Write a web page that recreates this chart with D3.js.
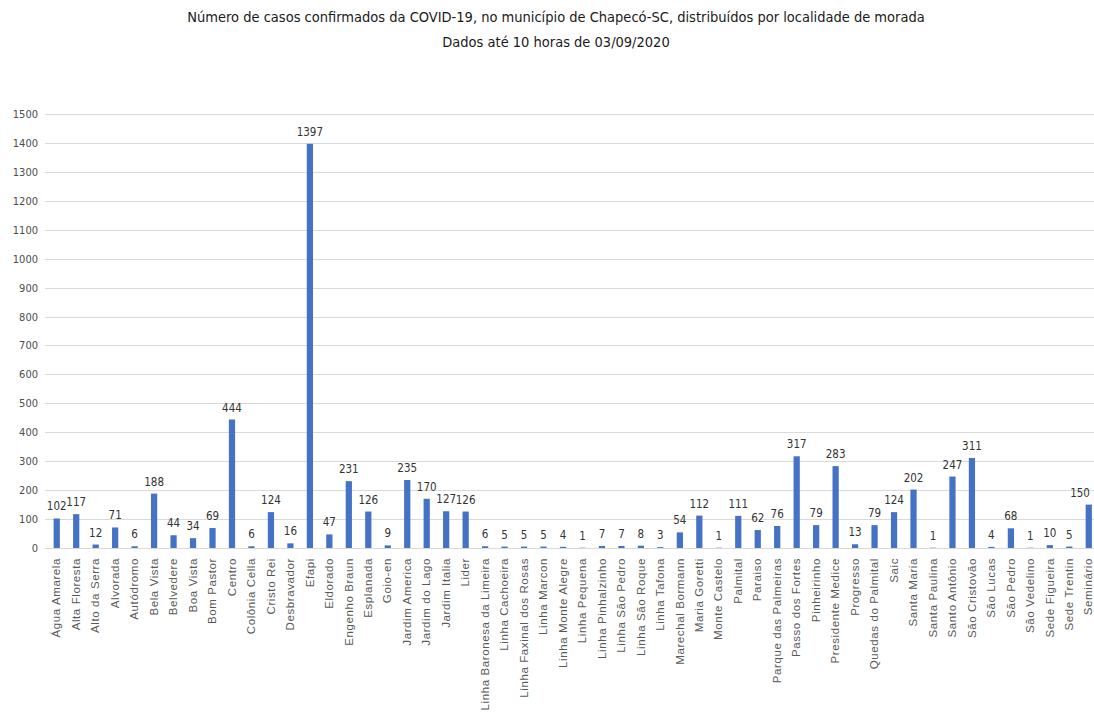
<!DOCTYPE html>
<html lang="pt">
<head>
<meta charset="UTF-8">
<title>Casos COVID-19 Chapecó</title>
<script src="https://cdn.jsdelivr.net/npm/d3@7"></script>
<style>
  body { margin: 0; background: #fff; }
  .grid line { stroke: #d9d9d9; stroke-width: 1; shape-rendering: crispEdges; }
  .grid path { display: none; }
  .yaxis path, .yaxis line { display: none; }
  .yaxis text { font-family: "DejaVu Sans Condensed", sans-serif; font-size: 11px; fill: #4d4d4d; }
  .xaxis path, .xaxis line { display: none; }
  .xaxis text { font-family: "Liberation Sans", Arial, sans-serif; font-size: 11.5px; fill: #595959; letter-spacing: 0.6px; }
  .title { font-family: "DejaVu Sans Condensed", sans-serif; font-size: 14.5px; fill: #1a1a1a; }
  .lbl { font-family: "DejaVu Sans Condensed", sans-serif; font-size: 11.5px; fill: #333; }
</style>
</head>
<body>
<script>
// localidades (eixo x)
var bairros = ["Água Amarela","Alta Floresta","Alto da Serra","Alvorada","Autódromo","Bela Vista","Belvedere",
  "Boa Vista","Bom Pastor","Centro","Colônia Cella","Cristo Rei","Desbravador","Efapi","Eldorado",
  "Engenho Braun","Esplanada","Goio-en","Jardim America","Jardim do Lago","Jardim Italia","Lider",
  "Linha Baronesa da Limeira","Linha Cachoeira","Linha Faxinal dos Rosas","Linha Marcon","Linha Monte Alegre",
  "Linha Pequena","Linha Pinhalzinho","Linha São Pedro","Linha São Roque","Linha Tafona","Marechal Bormann",
  "Maria Goretti","Monte Castelo","Palmital","Paraiso","Parque das Palmeiras","Passo dos Fortes","Pinheirinho",
  "Presidente Medice","Progresso","Quedas do Palmital","Saic","Santa Maria","Santa Paulina","Santo Antônio",
  "São Cristovão","São Lucas","São Pedro","São Vedelino","Sede Figueira","Sede Trentin","Seminário"];
// casos confirmados
var casos = [102,117,12,71,6,188,44,34,69,444,6,124,16,1397,47,231,126,9,235,170,127,126,
  6,5,5,5,4,1,7,7,8,3,54,112,1,111,62,76,317,79,283,13,79,124,202,1,247,311,4,68,1,10,5,150];
var yTicks = d3.range(0, 1501, 100);

var width = 1094, height = 722;
var svg = d3.select("body").append("svg").attr("width", width).attr("height", height);

var x = d3.scaleBand().domain(bairros).range([47, 1098.5]).paddingInner(0.68).paddingOuter(0.34);
var y = d3.scaleLinear().domain([0, 1500]).range([548, 114]);

svg.append("text").attr("class", "title").attr("x", 556).attr("y", 22).attr("text-anchor", "middle")
  .text("Número de casos confirmados da COVID-19, no município de Chapecó-SC, distribuídos por localidade de morada");
svg.append("text").attr("class", "title").attr("x", 556).attr("y", 47).attr("text-anchor", "middle")
  .text("Dados até 10 horas de 03/09/2020");

// grade
svg.append("g").attr("class", "grid").attr("transform", "translate(45,0)")
  .call(d3.axisLeft(y).tickValues(yTicks).tickSize(-1060).tickFormat(""));

svg.append("g").attr("class", "yaxis").attr("transform", "translate(38,0)")
  .call(d3.axisLeft(y).tickValues(yTicks).tickSize(0).tickPadding(0).tickFormat(d3.format("d")));

// barras
svg.selectAll("rect.bar").data(casos).enter().append("rect")
  .attr("class", "bar")
  .attr("x", function(d, i) { return x(bairros[i]); })
  .attr("y", function(d) { return y(d); })
  .attr("width", x.bandwidth())
  .attr("height", function(d) { return y(0) - y(d); })
  .attr("fill", "#4472c4");

svg.selectAll("text.lbl").data(casos).enter().append("text")
  .attr("class", "lbl")
  .attr("x", function(d, i) { return Math.min(x(bairros[i]) + x.bandwidth() / 2, 1080); })
  .attr("y", function(d) { return y(d) - 8; })
  .attr("text-anchor", "middle")
  .text(function(d) { return d; });

// eixo x
var xa = svg.append("g").attr("class", "xaxis").attr("transform", "translate(0,548)")
  .call(d3.axisBottom(x).tickSize(0));
xa.selectAll("text")
  .attr("transform", "rotate(-90)")
  .attr("text-anchor", "end")
  .attr("dx", "-10")
  .attr("dy", "0.32em")
  .attr("y", 0)
  .attr("x", 0);
</script>
</body>
</html>
